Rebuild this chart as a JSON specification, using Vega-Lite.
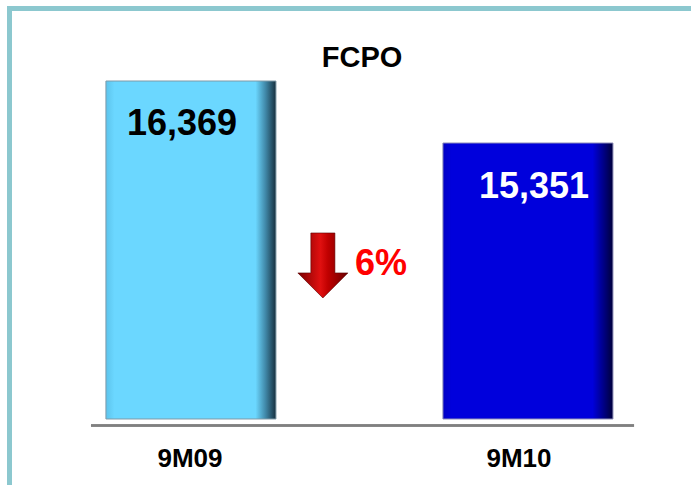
{
  "$schema": "https://vega.github.io/schema/vega-lite/v6.json",
  "width": 682,
  "height": 477,
  "autosize": {"type": "none"},
  "padding": {"left": 9, "top": 8, "right": 0, "bottom": 0},
  "background": "white",
  "config": {
    "view": {"stroke": null},
    "font": "Liberation Sans",
    "axis": {"domainColor": "#8CC8CF", "domainWidth": 5, "domainCap": "square", "labels": false, "ticks": false, "grid": false, "title": null}
  },
  "title": {"text": "FCPO", "fontSize": 29, "fontWeight": "bold", "color": "black", "anchor": "middle", "offset": -88, "baseline": "alphabetic", "dx": 12, "font": "Liberation Sans"},
  "data": {"values": [
    {"period": "9M09", "fcpo": 16369, "label": "16,369"},
    {"period": "9M10", "fcpo": 15351, "label": "15,351"}
  ]},
  "layer": [
    {
      "mark": {"type": "rule", "color": "#808080", "strokeWidth": 2.5},
      "encoding": {
        "x": {"datum": "9M09", "type": "nominal", "bandPosition": -0.088},
        "x2": {"datum": "9M10", "bandPosition": 1.124},
        "y": {"datum": 10712, "type": "quantitative", "axis": {"orient": "left"}, "scale": {"domain": [9735, 17568], "zero": false, "nice": false}}
      }
    },
    {
      "transform": [{"filter": "datum.period === '9M09'"}],
      "mark": {"type": "bar", "stroke": "#7f9aa8", "strokeWidth": 1, "color": {"gradient": "linear", "x1": 0, "y1": 0, "x2": 1, "y2": 0, "stops": [
        {"offset": 0, "color": "#5cc4ec"}, {"offset": 0.05, "color": "#6bd7ff"}, {"offset": 0.88, "color": "#6bd7ff"}, {"offset": 0.94, "color": "#3f86a6"}, {"offset": 1, "color": "#17303f"}]}},
      "encoding": {
        "x": {"field": "period", "type": "nominal", "axis": {"orient": "top"}, "scale": {"domain": ["9M09", "9M10"], "paddingInner": 0.4955, "paddingOuter": 0.2596, "align": 0.554}},
        "y": {"field": "fcpo", "type": "quantitative"},
        "y2": {"datum": 10819}
      }
    },
    {
      "transform": [{"filter": "datum.period === '9M10'"}],
      "mark": {"type": "bar", "stroke": "#8a8ab8", "strokeWidth": 1, "color": {"gradient": "linear", "x1": 0, "y1": 0, "x2": 1, "y2": 0, "stops": [
        {"offset": 0, "color": "#0000c4"}, {"offset": 0.05, "color": "#0000dc"}, {"offset": 0.88, "color": "#0000dc"}, {"offset": 0.94, "color": "#00008c"}, {"offset": 1, "color": "#00003a"}]}},
      "encoding": {
        "x": {"field": "period", "type": "nominal"},
        "y": {"field": "fcpo", "type": "quantitative"},
        "y2": {"datum": 10819}
      }
    },
    {
      "transform": [{"filter": "datum.period === '9M09'"}],
      "mark": {"type": "text", "fontSize": 36, "fontWeight": "bold", "color": "black", "baseline": "alphabetic", "align": "center", "dx": -9, "dy": 54},
      "encoding": {
        "x": {"field": "period", "type": "nominal"},
        "y": {"field": "fcpo", "type": "quantitative"},
        "text": {"field": "label"}
      }
    },
    {
      "transform": [{"filter": "datum.period === '9M10'"}],
      "mark": {"type": "text", "fontSize": 36, "fontWeight": "bold", "color": "white", "baseline": "alphabetic", "align": "center", "dx": 6, "dy": 55},
      "encoding": {
        "x": {"field": "period", "type": "nominal"},
        "y": {"field": "fcpo", "type": "quantitative"},
        "text": {"field": "label"}
      }
    },
    {
      "transform": [{"filter": "datum.period === '9M09'"}],
      "mark": {"type": "text", "fontSize": 26, "fontWeight": "bold", "color": "black", "baseline": "middle", "align": "center", "dx": -1},
      "encoding": {
        "x": {"field": "period", "type": "nominal"},
        "y": {"datum": 10162, "type": "quantitative"},
        "text": {"field": "period"}
      }
    },
    {
      "transform": [{"filter": "datum.period === '9M10'"}],
      "mark": {"type": "text", "fontSize": 26, "fontWeight": "bold", "color": "black", "baseline": "middle", "align": "center", "dx": -9},
      "encoding": {
        "x": {"field": "period", "type": "nominal"},
        "y": {"datum": 10162, "type": "quantitative"},
        "text": {"field": "period"}
      }
    },
    {
      "transform": [{"filter": "datum.period === '9M09'"}],
      "mark": {"type": "point", "filled": true, "size": 4225, "opacity": 1, "strokeWidth": 0.6, "stroke": "#5a0000",
        "shape": "M-0.37,-1L0.37,-1L0.37,0.23L0.77,0.23L0,1L-0.77,0.23L-0.37,0.23Z",
        "color": {"gradient": "linear", "x1": 0, "y1": 0, "x2": 1, "y2": 0, "stops": [
          {"offset": 0, "color": "#7a0000"}, {"offset": 0.45, "color": "#e01010"}, {"offset": 0.6, "color": "#c00000"}, {"offset": 1, "color": "#6a0000"}]}},
      "encoding": {
        "x": {"field": "period", "type": "nominal", "bandPosition": 1.276},
        "y": {"datum": 13340, "type": "quantitative"}
      }
    },
    {
      "transform": [{"filter": "datum.period === '9M09'"}],
      "mark": {"type": "text", "fontSize": 36, "fontWeight": "bold", "color": "#ff0000", "baseline": "alphabetic", "align": "left", "text": "6%"},
      "encoding": {
        "x": {"field": "period", "type": "nominal", "bandPosition": 1.465},
        "y": {"datum": 13184, "type": "quantitative"}
      }
    }
  ]
}
